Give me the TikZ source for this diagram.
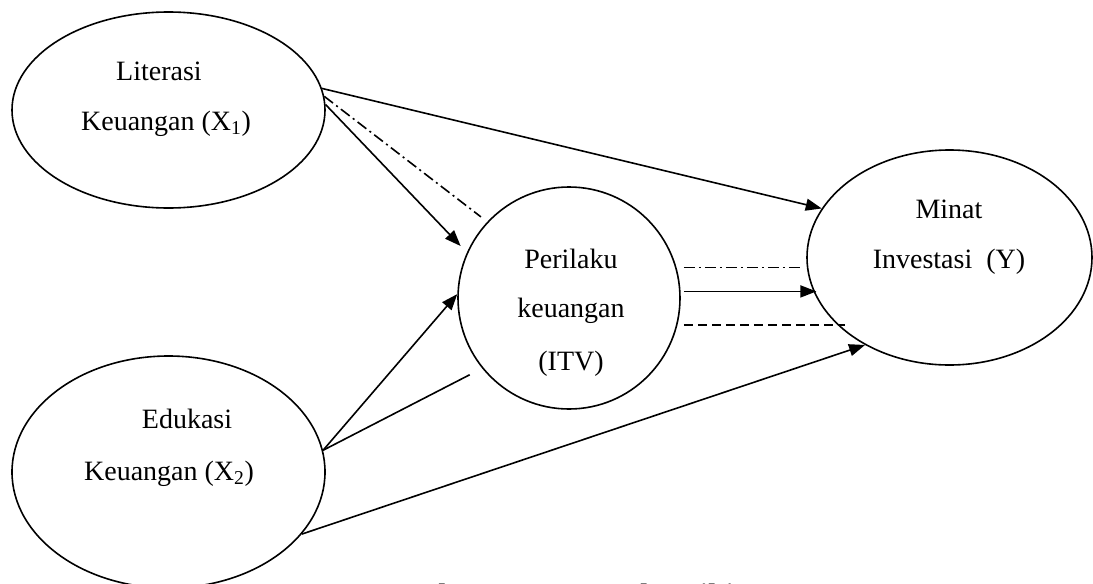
\documentclass[tikz,border=0pt]{standalone}
\usepackage{fontspec}
\setmainfont{Liberation Serif}
\usetikzlibrary{shapes.geometric,arrows.meta}
\begin{document}
\begin{tikzpicture}[x=1pt,y=-1pt,
  lbl/.style={anchor=base,inner sep=0pt,font=\fontsize{28}{34}\selectfont},
  oval/.style={draw,ellipse,line width=1.6pt,inner sep=0pt},
  conn/.style={line width=1.6pt},
  arr/.style={conn,-{Triangle[length=16pt,width=12pt]}},
  dashdotline/.style={conn,dash pattern=on 11pt off 4pt on 2pt off 4pt},
  dashline/.style={conn,dash pattern=on 9pt off 5pt}]
\useasboundingbox (0,0) rectangle (1093,584);
\clip (0,0) rectangle (1093,584);

% nodes
\node[oval,minimum width=313pt,minimum height=196pt] (X1) at (168.5,110) {};
\node[oval,minimum width=313pt,minimum height=232pt] (X2) at (168.5,472) {};
\node[draw,circle,line width=1.6pt,inner sep=0pt,minimum size=222pt] (ITV) at (569,298) {};
\node[oval,minimum width=285pt,minimum height=215pt] (Y) at (949.5,257.5) {};

% labels
\node[lbl] (x1a) at (159,80) {Literasi};
\node[lbl] (x1b) at (166,130) {Keuangan (X\textsubscript{1})};
\node[lbl] (x2a) at (187,428) {Edukasi};
\node[lbl] (x2b) at (169,480) {Keuangan (X\textsubscript{2})};
\node[lbl] (ia) at (571,268) {Perilaku};
\node[lbl] (ib) at (571,317) {keuangan};
\node[lbl] (ic) at (571,370) {(ITV)};
\node[lbl] (ya) at (949,218) {Minat};
\node[lbl] (yb) at (949,268) {Investasi~ (Y)};

% connectors
\draw[arr] (X1.8.7) -- (Y.159.1);
\draw[arr,shorten >=9pt] (X1.2.5) -- (ITV.156.4);
\draw[dashdotline,shorten >=8pt] (X1.5.4) -- (ITV.137);
\draw[dashdotline] ([xshift=3pt]ITV.east |- Y.184.2) -- ([xshift=-5pt]Y.184.2);
\draw[arr,shorten >=-3pt] ([xshift=3pt]ITV.east |- Y.194.3) -- (Y.194.3);
\draw[dashline] ([xshift=3pt]ITV.east |- Y.211.3) -- ([xshift=8pt]Y.211.3);
\draw[arr] (X2.335.4) -- (Y.226.7);
\draw[arr] (X2.8) -- (ITV.178.5);
\draw[conn,shorten >=14pt] (X2.8) -- (ITV.219.8);

% caption
\node[font=\bfseries\fontsize{31}{37}\selectfont,anchor=base west,inner sep=0pt] (cap) at (373,605) {Gambar II.1Kerangka Pikir};
\end{tikzpicture}
\end{document}
